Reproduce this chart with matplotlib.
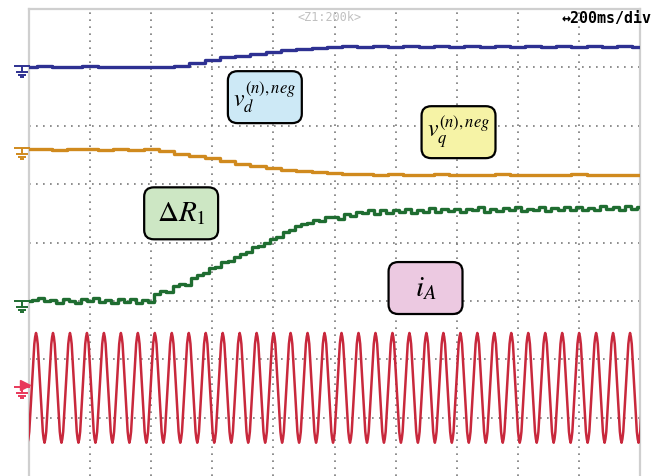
import numpy as np
import matplotlib.pyplot as plt
from matplotlib.patches import FancyBboxPatch
from matplotlib.path import Path

plt.rcParams['mathtext.fontset'] = 'stix'

# scope screen: 10 divisions across (200 ms/div), 8 divisions high
# slow traces, read every 0.25 div (levels in divisions from the bottom)
t_slow = np.arange(0, 10.01, 0.25)
vd_neg = [7.00, 7.02, 7.00, 7.00, 7.02, 7.00, 7.00, 7.01, 7.00, 7.01,
          7.03, 7.08, 7.13, 7.18, 7.20, 7.23, 7.27, 7.30, 7.32, 7.34,
          7.35, 7.37, 7.35, 7.36, 7.35, 7.37, 7.35, 7.36, 7.35, 7.37,
          7.35, 7.36, 7.35, 7.37, 7.35, 7.36, 7.35, 7.37, 7.35, 7.36, 7.35]
vq_neg = [5.60, 5.60, 5.58, 5.60, 5.60, 5.59, 5.60, 5.58, 5.60, 5.56,
          5.52, 5.48, 5.44, 5.39, 5.35, 5.31, 5.28, 5.25, 5.23, 5.21,
          5.19, 5.18, 5.17, 5.16, 5.17, 5.15, 5.16, 5.17, 5.16, 5.15,
          5.16, 5.17, 5.15, 5.16, 5.16, 5.15, 5.17, 5.15, 5.16, 5.15, 5.15]

# delta R1, read every 0.1 div
t_dr = np.arange(0, 10.01, 0.1)
delta_r1 = [2.99, 3.02, 3.05, 2.99, 3.02, 2.97, 3.04, 3.00, 2.96, 3.03,
            2.99, 3.05, 2.98, 3.02, 2.97, 3.03, 2.98, 3.04, 2.97, 3.01,
            2.98, 3.12, 3.17, 3.15, 3.26, 3.29, 3.27, 3.40, 3.44, 3.48,
            3.56, 3.58, 3.66, 3.69, 3.76, 3.80, 3.83, 3.92, 3.94, 4.00,
            4.06, 4.10, 4.18, 4.22, 4.28, 4.31, 4.34, 4.39, 4.37, 4.43,
            4.44, 4.41, 4.49, 4.46, 4.53, 4.50, 4.55, 4.49, 4.56, 4.51,
            4.55, 4.52, 4.58, 4.51, 4.56, 4.53, 4.59, 4.52, 4.57, 4.54,
            4.58, 4.52, 4.57, 4.55, 4.60, 4.53, 4.58, 4.54, 4.59, 4.55,
            4.60, 4.54, 4.58, 4.55, 4.61, 4.54, 4.59, 4.56, 4.60, 4.55,
            4.61, 4.56, 4.59, 4.55, 4.62, 4.57, 4.60, 4.56, 4.63, 4.58, 4.60]

# phase current i_A: one period (peak first), repeated
ia_period_shape = [1.0, 0.93, 0.80, 0.55, 0.27, 0.0, -0.27, -0.55, -0.80, -0.93,
                   -1.0, -0.93, -0.80, -0.55, -0.27, 0.0, 0.27, 0.55, 0.80, 0.93]
ia_center = 1.51
ia_amp = 0.94
ia_cycles = 36          # cycles across the 10 divisions
ia_first_peak = 0.115   # div

labels = [r'$v_d^{(n),neg}$', r'$v_q^{(n),neg}$', r'$\Delta R_1$', r'$i_A$']
label_pos = [(3.86, 6.49), (7.03, 5.89), (2.49, 4.50), (6.49, 3.22)]
label_size = [17, 17, 21, 21]
label_fill = ['#cde9f6', '#f6f3a6', '#cde7c4', '#ecc9e1']

c_blue = '#2e3192'
c_orange = '#d08a1e'
c_green = '#1f6d31'
c_red = '#c8283c'

fig = plt.figure(figsize=(6.54, 4.76), dpi=100)
ax = fig.add_axes([29 / 654, 0 / 476, 611 / 654, 467 / 476])
ax.set_xlim(0, 10)
ax.set_ylim(0, 8)
ax.set_xticks([])
ax.set_yticks([])
for side in ['top', 'left', 'right']:
    ax.spines[side].set_color('#cfcfcf')
    ax.spines[side].set_linewidth(1.6)
ax.spines['bottom'].set_visible(False)

# graticule
for gx in range(1, 10):
    ax.axvline(gx, color='#7a7a7a', lw=1.2, ls=(0, (1, 3.2)), zorder=1)
for gy in range(1, 8):
    ax.axhline(gy, color='#7a7a7a', lw=1.2, ls=(0, (1, 3.2)), zorder=1)

# traces
ax.plot(t_slow, vd_neg, color=c_blue, lw=2.4, drawstyle='steps-mid', zorder=3)
ax.plot(t_slow, vq_neg, color=c_orange, lw=2.4, drawstyle='steps-mid', zorder=3)
ax.plot(t_dr, delta_r1, color=c_green, lw=2.4, drawstyle='steps-mid', zorder=3)

period = 10 / ia_cycles
n_per = len(ia_period_shape)
ia_vals = ia_center + ia_amp * np.tile(ia_period_shape, ia_cycles + 2)
t_ia = ia_first_peak - period + np.arange(len(ia_vals)) * period / n_per
ax.plot(t_ia, ia_vals, color=c_red, lw=1.8, zorder=3)

# ground markers at the left edge
gnd = Path([(-1.6, 1), (1.6, 1), (0, 1), (0, -0.2), (-1.1, -0.2), (1.1, -0.2),
            (-0.7, -0.7), (0.7, -0.7), (-0.3, -1.2), (0.3, -1.2)],
           [Path.MOVETO, Path.LINETO, Path.MOVETO, Path.LINETO, Path.MOVETO,
            Path.LINETO, Path.MOVETO, Path.LINETO, Path.MOVETO, Path.LINETO])
for lev, col in [(vd_neg[0], c_blue), (vq_neg[0], c_orange),
                 (delta_r1[0], c_green), (ia_center, '#e8385a')]:
    ax.plot([-0.11], [lev - 0.07], marker=gnd, ms=12, mew=1.4, color=col,
            mfc='none', clip_on=False, zorder=4)
ax.plot([-0.06], [ia_center + 0.05], marker='>', ms=7, color='#e8385a',
        clip_on=False, zorder=4)

# labels
for txt, (cx, cy), fs, fc in zip(labels, label_pos, label_size, label_fill):
    w, h = 1.21, 0.89
    box = FancyBboxPatch((cx - w / 2, cy - h / 2), w, h,
                         boxstyle='round,pad=0,rounding_size=0.16',
                         fc=fc, ec='black', lw=1.6, zorder=5)
    ax.add_patch(box)
    ax.text(cx, cy, txt, ha='center', va='center', fontsize=fs, zorder=6)

ax.text(4.92, 7.86, '<Z1:200k>', ha='center', va='center', fontsize=8.5,
        family='DejaVu Sans Mono', color='#c0c0c0', zorder=2)
ax.text(8.72, 7.84, '\u2194200ms/div', ha='left', va='center', fontsize=10.8,
        family='DejaVu Sans Mono', weight='bold', color='black', clip_on=False,
        zorder=6)

fig.savefig('out.png', dpi=100)
